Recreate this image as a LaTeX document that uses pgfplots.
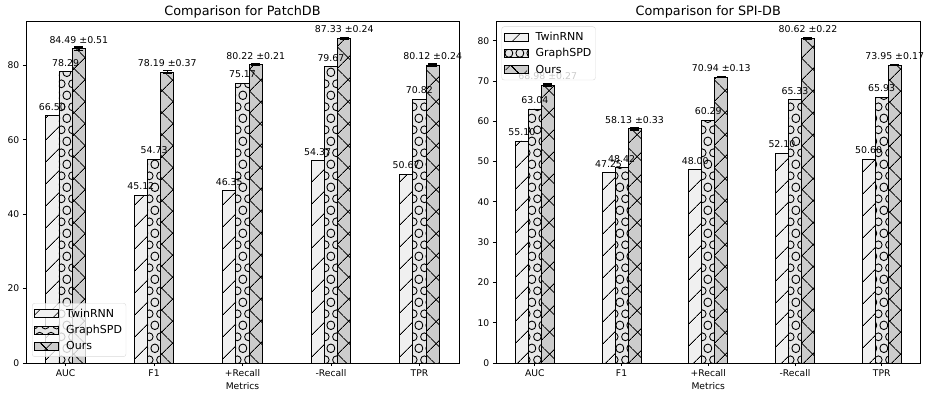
\documentclass[border=0pt]{standalone}
\usepackage{fontspec}
\setmainfont{DejaVu Sans}
\usepackage{pgfplots}
\pgfplotsset{compat=1.18}
\usepackage{pgfplotstable}
\usetikzlibrary{patterns.meta}

\definecolor{twfill}{HTML}{F0F0F0}
\definecolor{gsfill}{HTML}{E6E6E6}
\definecolor{oufill}{HTML}{CCCCCC}

\newcommand\tickfont{\fontsize{9.2}{11}\selectfont}
\newcommand\valfont{\fontsize{9.4}{11}\selectfont}
\newcommand\legfont{\fontsize{11}{12.4}\selectfont}
\newcommand\titlefont{\fontsize{12.8}{15}\selectfont}

\tikzdeclarepattern{
  name=mplcircles,
  type=uncolored,
  bounding box={(0pt,0pt) and (11.33pt,22.67pt)},
  tile size={(11.33pt,22.67pt)},
  code={
    \pgfsetlinewidth{0.9pt}
    \pgfpathcircle{\pgfpoint{0pt}{0pt}}{3.97pt}
    \pgfpathcircle{\pgfpoint{11.33pt}{0pt}}{3.97pt}
    \pgfpathcircle{\pgfpoint{0pt}{22.67pt}}{3.97pt}
    \pgfpathcircle{\pgfpoint{11.33pt}{22.67pt}}{3.97pt}
    \pgfpathcircle{\pgfpoint{5.665pt}{11.335pt}}{3.97pt}
    \pgfusepath{stroke}
  }
}

% ---------------- data ----------------
\pgfplotstableread[col sep=comma,row sep=\\]{
x,y,lab\\
-0.15,66.50,66.50\\
0.85,45.12,45.12\\
1.85,46.35,46.35\\
2.85,54.37,54.37\\
3.85,50.67,50.67\\
}\patchTw
\pgfplotstableread[col sep=comma,row sep=\\]{
x,y,lab\\
0,78.29,78.29\\
1,54.73,54.73\\
2,75.17,75.17\\
3,79.67,79.67\\
4,70.82,70.82\\
}\patchGs
\pgfplotstableread[col sep=comma,row sep=\\]{
x,y,e,lab\\
0.15,84.49,0.51,84.49 ±0.51\\
1.15,78.19,0.37,78.19 ±0.37\\
2.15,80.22,0.21,80.22 ±0.21\\
3.15,87.33,0.24,87.33 ±0.24\\
4.15,80.12,0.24,80.12 ±0.24\\
}\patchOu

\pgfplotstableread[col sep=comma,row sep=\\]{
x,y,lab\\
-0.15,55.10,55.10\\
0.85,47.25,47.25\\
1.85,48.00,48.00\\
2.85,52.10,52.10\\
3.85,50.60,50.60\\
}\spiTw
\pgfplotstableread[col sep=comma,row sep=\\]{
x,y,lab\\
0,63.04,63.04\\
1,48.42,48.42\\
2,60.29,60.29\\
3,65.33,65.33\\
4,65.93,65.93\\
}\spiGs
\pgfplotstableread[col sep=comma,row sep=\\]{
x,y,e,lab\\
0.15,68.98,0.27,68.98 ±0.27\\
1.15,58.13,0.33,58.13 ±0.33\\
2.15,70.94,0.13,70.94 ±0.13\\
3.15,80.62,0.22,80.62 ±0.22\\
4.15,73.95,0.17,73.95 ±0.17\\
}\spiOu

\pgfplotsset{
  mplaxis/.style={
    anchor=south west, scale only axis, height=342pt,
    xmin=-0.4475, xmax=4.4475, ymin=0,
    xtick={0,1,2,3,4}, xticklabels={AUC,F1,+Recall,-Recall,TPR},
    tick align=outside, tick pos=left,
    major tick length=3.2pt,
    tick style={black, line width=0.75pt},
    axis line style={line width=0.75pt},
    /pgf/number format/assume math mode=true,
    ticklabel style={font=\tickfont},
    clip=false,
    every axis title/.style={at={(axis description cs:0.5,1)}, anchor=base, yshift=5pt, font=\titlefont},
    every axis x label/.style={at={(axis description cs:0.5,0)}, anchor=base, yshift=-26.5pt, font=\tickfont},
    point meta=explicit symbolic,
    nodes near coords,
    every node near coord/.style={font=\valfont, inner sep=0pt, anchor=south, yshift=5pt, text=black},
    legend cell align=left,
    legend image code/.code={\draw[##1, sharp corners, fill opacity=1, draw opacity=1] (0pt,-4pt) rectangle (24pt,4pt);},
  },
  twbar/.style={ybar, bar width=0.15, bar shift=0pt, draw=black, line width=0.9pt, fill=twfill,
    postaction={pattern color=black, pattern={Lines[angle=45,distance=16.03pt,line width=0.9pt]}}},
  gsbar/.style={ybar, bar width=0.15, bar shift=0pt, draw=black, line width=0.9pt, fill=gsfill,
    postaction={pattern color=black, pattern=mplcircles}},
  oubar/.style={ybar, bar width=0.15, bar shift=0pt, draw=black, line width=0.9pt, fill=oufill,
    postaction={pattern color=black, pattern={Hatch[angle=45,distance=16.03pt,line width=0.9pt]}},
    error bars/.cd, y dir=both, y explicit,
    error bar style={line width=1.4pt, black},
    error mark options={rotate=90, mark size=4.5pt, line width=1.4pt, black}},
  mpllegend/.style={legend style={draw=gray!30, fill=white, fill opacity=0.8, text opacity=1,
    rounded corners=2.5pt, font=\legfont, inner xsep=2pt, inner ysep=3.5pt, row sep=2.5pt,
    column sep=5pt, cells={anchor=west}}},
}

\begin{document}
\begin{tikzpicture}
\useasboundingbox (0,0) rectangle (929pt,393pt);
\begin{axis}[mplaxis, mpllegend, at={(26pt,30pt)}, width=433pt,
  ymax=91.95, ytick={0,20,40,60,80},
  title={Comparison for PatchDB}, xlabel={Metrics},
  legend style={at={(axis description cs:0.014,0.018)}, anchor=south west}]
\addplot[twbar] table[x=x,y=y,meta=lab]{\patchTw};
\addlegendentry{TwinRNN}
\addplot[gsbar] table[x=x,y=y,meta=lab]{\patchGs};
\addlegendentry{GraphSPD}
\addplot[oubar] table[x=x,y=y,y error=e,meta=lab]{\patchOu};
\addlegendentry{Ours}
\end{axis}
\begin{axis}[mplaxis, mpllegend, at={(496pt,30pt)}, width=424.5pt,
  ymax=84.88, ytick={0,10,20,30,40,50,60,70,80},
  title={Comparison for SPI-DB}, xlabel={Metrics},
  legend style={at={(axis description cs:0.013,0.984)}, anchor=north west}]
\addplot[twbar] table[x=x,y=y,meta=lab]{\spiTw};
\addlegendentry{TwinRNN}
\addplot[gsbar] table[x=x,y=y,meta=lab]{\spiGs};
\addlegendentry{GraphSPD}
\addplot[oubar] table[x=x,y=y,y error=e,meta=lab]{\spiOu};
\addlegendentry{Ours}
\end{axis}
\end{tikzpicture}
\end{document}
